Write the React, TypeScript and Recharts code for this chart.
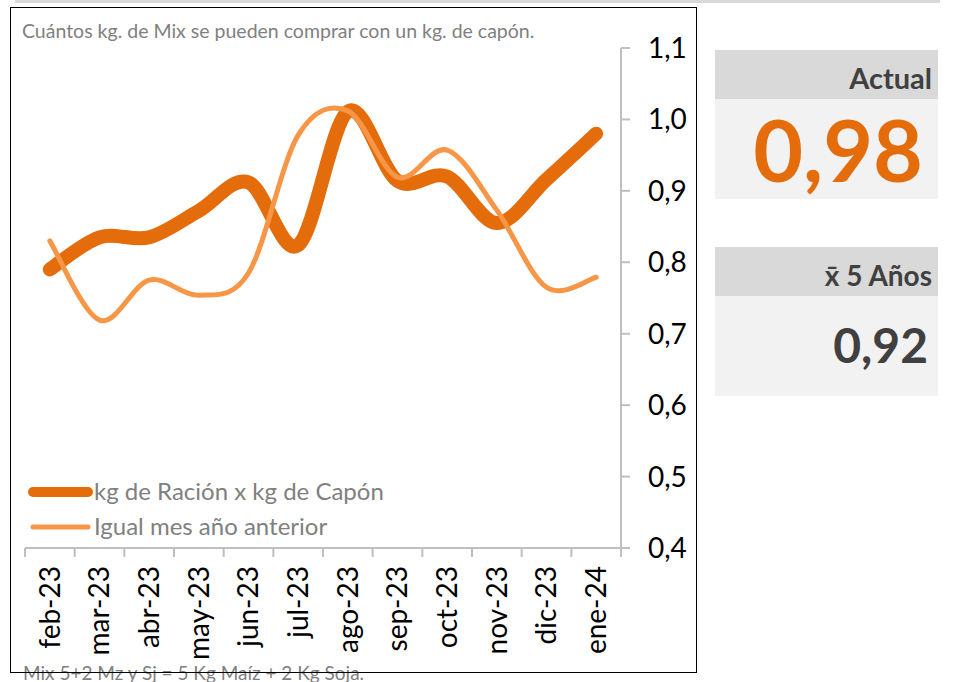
import { LineChart, Line, XAxis, YAxis, Legend } from 'recharts'

const months = ['feb-23', 'mar-23', 'abr-23', 'may-23', 'jun-23', 'jul-23', 'ago-23', 'sep-23', 'oct-23', 'nov-23', 'dic-23', 'ene-24']
const racion = [0.79, 0.835, 0.835, 0.872, 0.912, 0.824, 1.011, 0.914, 0.92, 0.855, 0.916, 0.98]
const anterior = [0.83, 0.719, 0.775, 0.754, 0.785, 0.978, 1.012, 0.919, 0.957, 0.873, 0.765, 0.779]
const yTicks = [0.4, 0.5, 0.6, 0.7, 0.8, 0.9, 1.0, 1.1]

const actual = '0,98'
const avg5 = '0,92'

const series = [
  { key: 'racion', name: 'kg de Ración x kg de Capón', color: '#E46C0A', width: 14, icon: 10 },
  { key: 'anterior', name: 'Igual mes año anterior', color: '#F79646', width: 5, icon: 5 },
]

const data = months.map((m, i) => ({ m, racion: racion[i], anterior: anterior[i] }))

const FONT = 'Lato, "Open Sans", sans-serif'
const GREY = '#808080'
const AXIS = '#BFBFBF'
const TICK = 9
const TICK_GAP = 9

// excel style smoothing (catmull-rom, 1/6 control points)
function excelCurve(ctx: any) {
  let pts: number[][] = []
  return {
    areaStart() {},
    areaEnd() {},
    lineStart() { pts = [] },
    lineEnd() {
      if (!pts.length) return
      ctx.moveTo(pts[0][0], pts[0][1])
      for (let i = 0; i < pts.length - 1; i++) {
        const p0 = pts[i - 1] || pts[i]
        const p1 = pts[i]
        const p2 = pts[i + 1]
        const p3 = pts[i + 2] || p2
        ctx.bezierCurveTo(
          p1[0] + (p2[0] - p0[0]) / 6, p1[1] + (p2[1] - p0[1]) / 6,
          p2[0] - (p3[0] - p1[0]) / 6, p2[1] - (p3[1] - p1[1]) / 6,
          p2[0], p2[1],
        )
      }
    },
    point(x: number, y: number) { pts.push([+x, +y]) },
  }
}

// month label + excel-like tick marks on the category boundaries
function MonthTick({ x, y, payload, index }: any) {
  const half = payload.offset || 0
  const ay = y - TICK - TICK_GAP
  return (
    <g>
      <line x1={x - half} x2={x - half} y1={ay} y2={ay + TICK} stroke={AXIS} strokeWidth={2} />
      {index === months.length - 1 && (
        <line x1={x + half} x2={x + half} y1={ay} y2={ay + TICK} stroke={AXIS} strokeWidth={2} />
      )}
      <text x={x} y={y} transform={`rotate(-90, ${x}, ${y})`} textAnchor="end" dy="0.35em"
        fill="#000" fontSize={28} fontFamily={FONT}>
        {payload.value}
      </text>
    </g>
  )
}

function LegendBox() {
  return (
    <svg width={400} height={70}>
      {series.map((s, i) => (
        <g key={s.key}>
          <line x1={10} x2={65} y1={17 + i * 35} y2={17 + i * 35} stroke={s.color}
            strokeWidth={s.icon} strokeLinecap="round" />
          <text x={71} y={25 + i * 35} fontSize={24} fill={GREY} fontFamily={FONT}>{s.name}</text>
        </g>
      ))}
    </svg>
  )
}

export default function App() {
  return (
    <div style={{ position: 'fixed', left: 0, top: 0, width: 957, height: 682, background: '#fff', overflow: 'hidden', fontFamily: FONT }}>
      <div style={{ position: 'absolute', left: 15, top: 0, width: 925, height: 3, background: '#D9D9D9' }} />
      <div style={{ position: 'absolute', left: 22, top: 19, fontSize: 19.5, color: GREY, whiteSpace: 'nowrap' }}>
        Cuántos kg. de Mix se pueden comprar con un kg. de capón.
      </div>
      <div style={{ position: 'absolute', left: 0, top: 0 }}>
        <LineChart width={700} height={682} data={data} margin={{ top: 48, right: 9, bottom: 34, left: 25 }}>
          <XAxis dataKey="m" scale="band" height={100} axisLine={{ stroke: AXIS, strokeWidth: 2 }} tickLine={false}
            tickSize={TICK} tickMargin={TICK_GAP} tick={<MonthTick />} interval={0} />
          <YAxis orientation="right" width={70} domain={[0.4, 1.1]} ticks={yTicks} allowDataOverflow
            axisLine={{ stroke: AXIS, strokeWidth: 2 }} tickLine={{ stroke: AXIS, strokeWidth: 2 }}
            tickSize={9} tickMargin={18}
            tick={{ fill: '#000', fontSize: 28, fontFamily: FONT }}
            tickFormatter={(v: number) => v.toFixed(1).replace('.', ',')} />
          <Legend layout="horizontal" align="center" verticalAlign="middle" content={<LegendBox />}
            wrapperStyle={{ position: 'absolute', left: 23, top: 475, width: 400 }} />
          {series.map(s => (
            <Line key={s.key} dataKey={s.key} name={s.name} type={excelCurve as any} stroke={s.color}
              strokeWidth={s.width} strokeLinecap="round" dot={false} isAnimationActive={false} />
          ))}
        </LineChart>
      </div>
      <div style={{ position: 'absolute', left: 23, top: 661, fontSize: 19, color: GREY, whiteSpace: 'nowrap' }}>
        Mix 5+2 Mz y Sj = 5 Kg Maíz + 2 Kg Soja.
      </div>
      <div style={{ position: 'absolute', left: 10, top: 7, width: 685, height: 664, border: '1px solid #000', pointerEvents: 'none' }} />
      <svg style={{ position: 'absolute', left: 700, top: 0 }} width={257} height={682}>
        <rect x={15} y={50} width={223} height={49} fill="#D9D9D9" />
        <rect x={15} y={99} width={223} height={100} fill="#F2F2F2" />
        <rect x={15} y={247} width={223} height={49} fill="#D9D9D9" />
        <rect x={15} y={296} width={223} height={100} fill="#F2F2F2" />
        <text x={232} y={89} textAnchor="end" fontSize={29} fontWeight="bold" fill="#404040" fontFamily={FONT}>Actual</text>
        <text x={223} y={182} textAnchor="end" fontSize={86} fontWeight="bold" fill="#E46C0A" fontFamily={FONT}>{actual}</text>
        <text x={232} y={286} textAnchor="end" fontSize={28} fontWeight="bold" fill="#404040" fontFamily={FONT}>x̄ 5 Años</text>
        <text x={228} y={363} textAnchor="end" fontSize={48} fontWeight="bold" fill="#404040" fontFamily={FONT}>{avg5}</text>
      </svg>
    </div>
  )
}
